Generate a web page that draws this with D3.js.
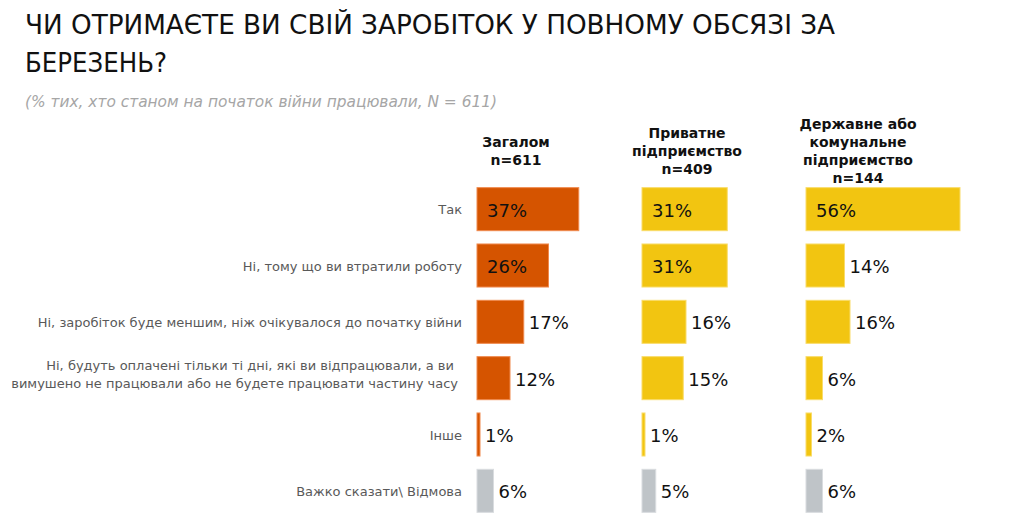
<!DOCTYPE html>
<html lang="uk">
<head>
<meta charset="UTF-8" />
<title>Заробіток за березень</title>
<script src="https://cdn.jsdelivr.net/npm/d3@7/dist/d3.min.js"></script>
<style>
  body { margin: 0; background: #fff; }
  svg { display: block; font-family: "DejaVu Sans", Verdana, sans-serif; }
  .title { font-family: "DejaVu Sans Condensed", "DejaVu Sans", sans-serif; font-size: 27px; fill: #111; }
  .subtitle { font-size: 16px; font-style: italic; fill: #a6a6a6; }
  .header { font-size: 14px; font-weight: bold; fill: #111; }
  .cat { font-size: 13px; fill: #595959; }
  .val { font-size: 18px; fill: #111; }
</style>
</head>
<body>
<script>
// chart data
var titleLines = ["ЧИ ОТРИМАЄТЕ ВИ СВІЙ ЗАРОБІТОК У ПОВНОМУ ОБСЯЗІ ЗА", "БЕРЕЗЕНЬ?"];
var subtitle = "(% тих, хто станом на початок війни працювали, N = 611)";

var categories = [
  "Так",
  "Ні, тому що ви втратили роботу",
  "Ні, заробіток буде меншим, ніж очікувалося до початку війни",
  "Ні, будуть оплачені тільки ті дні, які ви відпрацювали, а ви\u00a0|вимушено не працювали або не будете працювати частину часу",
  "Інше",
  "Важко сказати\\ Відмова"
];

var overall = [37, 26, 17, 12, 1, 6];
var privateSector = [31, 31, 16, 15, 1, 5];
var publicSector = [56, 14, 16, 6, 2, 6];

var headers = [
  ["Загалом", "n=611"],
  ["Приватне", "підприємство", "n=409"],
  ["Державне або", "комунальне", "підприємство", "n=144"]
];

// layout
var w = 1028, h = 527;
var panelX = [477, 642, 806];
var headerX = [516, 687, 858];
var mainColors = ["#d55400", "#f2c511", "#f2c511"];
var edgeColors = ["#f08a4e", "#f9dc6a", "#f9dc6a"];
var greyColor = "#bfc4c8", greyEdge = "#d9dcdf";

var panels = [overall, privateSector, publicSector];

var svg = d3.select("body").append("svg")
  .attr("width", w)
  .attr("height", h);

// title
var titleWidths = [810, 142];
titleLines.forEach(function(t, i) {
  svg.append("text")
    .attr("class", "title")
    .attr("x", 25)
    .attr("y", 34 + i * 38)
    .attr("textLength", titleWidths[i])
    .attr("lengthAdjust", "spacingAndGlyphs")
    .text(t);
});

svg.append("text")
  .attr("class", "subtitle")
  .attr("x", 25)
  .attr("y", 107)
  .attr("textLength", 472)
  .attr("lengthAdjust", "spacingAndGlyphs")
  .text(subtitle);

// scales
var yScale = d3.scaleBand()
  .domain(categories)
  .range([181, 519])
  .paddingInner(0.236)
  .paddingOuter(0.118);

var xScale = d3.scaleLinear()
  .domain([0, 60])
  .range([0, 165]);

// category labels
categories.forEach(function(c) {
  var lines = c.split("|");
  var cy = yScale(c) + yScale.bandwidth() / 2;
  var lh = 18;
  var t = svg.append("text")
    .attr("class", "cat")
    .attr("text-anchor", "end")
    .attr("dominant-baseline", "central");
  lines.forEach(function(l, j) {
    t.append("tspan")
      .attr("x", lines.length > 1 ? 458 : 462)
      .attr("y", cy + (j - (lines.length - 1) / 2) * lh + (lines.length > 1 ? -4 : 0))
      .text(l);
  });
});

// headers, vertically centred around one line
headers.forEach(function(hd, i) {
  var t = svg.append("text")
    .attr("class", "header")
    .attr("text-anchor", "middle");
  hd.forEach(function(l, j) {
    t.append("tspan")
      .attr("x", headerX[i])
      .attr("y", 156 + (j - (hd.length - 1) / 2) * 18.3)
      .text(l);
  });
});

// bars
panels.forEach(function(vals, p) {
  var g = svg.append("g")
    .attr("transform", "translate(" + panelX[p] + ",0)");

  var rows = vals.map(function(v, i) { return { cat: categories[i], v: v, i: i }; });

  g.selectAll("rect")
    .data(rows)
    .enter().append("rect")
    .attr("x", 0)
    .attr("y", function(d) { return yScale(d.cat); })
    .attr("width", function(d) { return Math.max(xScale(d.v), 3); })
    .attr("height", yScale.bandwidth())
    .attr("fill", function(d) { return d.i === categories.length - 1 ? greyColor : mainColors[p]; })
    .attr("stroke", function(d) { return d.i === categories.length - 1 ? greyEdge : edgeColors[p]; })
    .attr("stroke-width", 1);

  g.selectAll("text.val")
    .data(rows)
    .enter().append("text")
    .attr("class", "val")
    .attr("x", function(d) { return d.v >= 20 ? 10 : Math.max(xScale(d.v), 3) + 5; })
    .attr("y", function(d) { return yScale(d.cat) + yScale.bandwidth() / 2 + 1; })
    .attr("dominant-baseline", "central")
    .text(function(d) { return d.v + "%"; });
});
</script>
</body>
</html>
